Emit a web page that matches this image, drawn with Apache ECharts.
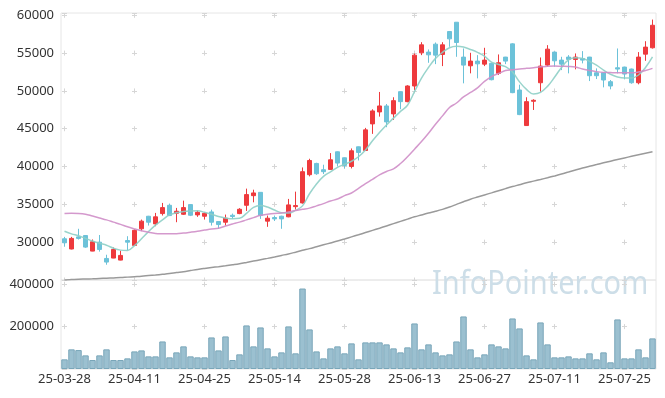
<!DOCTYPE html>
<html lang="ko">
<head>
    <meta charset="UTF-8">
    <title>주가 차트</title>
    <script src="https://cdn.jsdelivr.net/npm/echarts@6/dist/echarts.min.js"></script>
    <style>
        body { margin: 0; background: #fff; }
    </style>
</head>
<body>
<div id="main" style="width: 665px;height:398px;"></div>
<script>
    // 날짜 (거래일)
    var dates = [
        '25-03-28', '25-03-31', '25-04-01', '25-04-02', '25-04-03', '25-04-04', '25-04-07', '25-04-08', '25-04-09', '25-04-10',
        '25-04-11', '25-04-14', '25-04-15', '25-04-16', '25-04-17', '25-04-18', '25-04-21', '25-04-22', '25-04-23', '25-04-24',
        '25-04-25', '25-04-28', '25-04-29', '25-04-30', '25-05-02', '25-05-07', '25-05-08', '25-05-09', '25-05-12', '25-05-13',
        '25-05-14', '25-05-15', '25-05-16', '25-05-19', '25-05-20', '25-05-21', '25-05-22', '25-05-23', '25-05-26', '25-05-27',
        '25-05-28', '25-05-29', '25-05-30', '25-06-02', '25-06-04', '25-06-05', '25-06-09', '25-06-10', '25-06-11', '25-06-12',
        '25-06-13', '25-06-16', '25-06-17', '25-06-18', '25-06-19', '25-06-20', '25-06-23', '25-06-24', '25-06-25', '25-06-26',
        '25-06-27', '25-06-30', '25-07-01', '25-07-02', '25-07-03', '25-07-04', '25-07-07', '25-07-08', '25-07-09', '25-07-10',
        '25-07-11', '25-07-14', '25-07-15', '25-07-16', '25-07-17', '25-07-18', '25-07-21', '25-07-22', '25-07-23', '25-07-24',
        '25-07-25', '25-07-28', '25-07-29', '25-07-30', '25-07-31'
    ];

    // 시가, 종가, 저가, 고가
    var openPrices = [
        30450, 29100, 30700, 30880, 28820, 30000, 27850, 27900, 27630, 30220,
        29570, 31770, 33430, 32420, 33780, 34880, 33820, 33690, 34970, 33610,
        33430, 34000, 32730, 32640, 33560, 33780, 34880, 36150, 36590, 32780,
        33260, 33430, 33350, 34700, 35190, 38920, 40410, 39580, 39620, 41950,
        41160, 40010, 42610, 42120, 45640, 47220, 48010, 46960, 49900, 48580,
        50650, 55030, 55130, 56180, 54820, 57850, 59080, 54470, 53320, 53940,
        53540, 53640, 52320, 54470, 56220, 50120, 45420, 48630, 51080, 53410,
        55130, 54070, 54470, 54160, 54290, 54470, 52400, 52400, 51220, 53060,
        53150, 52890, 51080, 54860, 55700
    ];
    var closePrices = [
        29920, 30500, 30500, 29350, 30050, 29040, 27370, 29040, 28250, 30000,
        31570, 32780, 32640, 33350, 34570, 33520, 34090, 34570, 33560, 33950,
        33820, 32640, 32330, 33170, 33390, 34350, 36290, 36510, 33520, 33170,
        33080, 33080, 34930, 34840, 39320, 40800, 39050, 39320, 40890, 40460,
        40150, 42080, 41860, 44850, 47350, 48010, 45900, 48710, 48580, 50650,
        54730, 56090, 54770, 54730, 56090, 56880, 56400, 53410, 53940, 53580,
        54070, 51480, 53720, 53940, 49770, 46870, 48580, 48760, 53280, 55520,
        53980, 53540, 54160, 54470, 54070, 52010, 52010, 51440, 50650, 52890,
        52230, 51080, 54470, 55790, 58680
    ];
    var lowPrices = [
        29400, 29050, 30350, 29250, 28800, 28750, 27020, 27880, 27600, 28950,
        29500, 31460, 32200, 32110, 33520, 33450, 32640, 33600, 33450, 33350,
        32990, 32200, 31770, 32200, 33080, 33700, 34130, 35270, 33080, 32030,
        32800, 31770, 33300, 34310, 35100, 38700, 38900, 39010, 39550, 40010,
        39750, 39750, 40800, 42050, 44320, 46600, 45200, 46170, 47580, 48500,
        50120, 54730, 53720, 53540, 53280, 55830, 54510, 51000, 52320, 51660,
        53280, 51400, 52100, 53540, 49700, 46800, 45400, 47480, 49900, 53190,
        53190, 52750, 52320, 52850, 53640, 51300, 51570, 50470, 50210, 52320,
        51530, 50950, 50870, 53980, 55600
    ];
    var highPrices = [
        30700, 30700, 31770, 30900, 30360, 30950, 28340, 29300, 28870, 30790,
        31700, 32990, 33480, 33870, 35190, 35100, 34530, 35490, 35000, 34180,
        33950, 34300, 32800, 33650, 33780, 34500, 37080, 36940, 36600, 33520,
        33520, 33500, 35720, 36680, 39880, 41030, 40500, 40240, 41780, 42000,
        41200, 42390, 42650, 45110, 47570, 49860, 48270, 49160, 49950, 50750,
        54950, 56440, 55480, 56400, 56440, 57900, 59100, 55610, 55040, 54730,
        55700, 53700, 54820, 54500, 56300, 50820, 49160, 48890, 54420, 56050,
        55200, 54510, 54730, 54950, 55260, 54500, 52980, 52450, 51440, 55610,
        53200, 52950, 55130, 56570, 59430
    ];

    // 이동평균선
    var ma5 = [
        31450, 31100, 30850, 30500, 30150, 29850, 29600, 29200, 28950, 28900,
        29550, 30450, 31400, 32250, 32950, 33600, 33900, 34050, 34120, 34150,
        33950, 33700, 33400, 33200, 33100, 33150, 33800, 34600, 34850, 34650,
        34250, 33900, 33850, 34200, 34800, 36400, 37700, 38700, 39300, 39900,
        40300, 40700, 41300, 42200, 43400, 44500, 45500, 46400, 47300, 48100,
        49900, 51700, 53100, 54300, 55100, 55700, 55900, 55800, 55480, 55100,
        54600, 53800, 53500, 53200, 52500, 51200, 50200, 49600, 49800, 50600,
        51800, 53100, 54100, 54380, 54300, 53900, 53400, 52750, 52200, 51850,
        51700, 51700, 52100, 53100, 54500
    ];
    var ma20 = [
        33780, 33820, 33800, 33700, 33450, 33200, 32950, 32650, 32350, 32030,
        31750, 31500, 31300, 31150, 31110, 31100, 31110, 31200, 31320, 31450,
        31600, 31750, 31850, 32150, 32400, 32650, 32950, 33250, 33550, 33700,
        33800, 33850, 34000, 34200, 34350, 34500, 34800, 35100, 35450, 35700,
        36150, 36500, 37100, 37750, 38300, 38900, 39350, 39700, 40400, 41300,
        42300, 43300, 44400, 45600, 46700, 47800, 48400, 49200, 49800, 50400,
        51250, 51900, 52300, 52700, 52800, 52900, 52980, 53050, 53190, 53250,
        53280, 53250, 53230, 53150, 52900, 52700, 52550, 52450, 52420, 52400,
        52400, 52400, 52500, 52700, 52980
    ];
    var ma120 = [
        25000, 25050, 25100, 25130, 25160, 25200, 25240, 25280, 25320, 25380,
        25440, 25500, 25580, 25660, 25750, 25850, 25980, 26100, 26250, 26400,
        26530, 26650, 26760, 26880, 27010, 27150, 27320, 27500, 27680, 27860,
        28050, 28250, 28450, 28680, 28920, 29150, 29400, 29650, 29900, 30150,
        30420, 30700, 30980, 31270, 31560, 31850, 32150, 32450, 32750, 33050,
        33350, 33600, 33850, 34080, 34340, 34650, 35000, 35350, 35680, 35970,
        36250, 36520, 36800, 37080, 37350, 37600, 37850, 38070, 38290, 38520,
        38760, 39010, 39280, 39550, 39810, 40040, 40260, 40490, 40710, 40930,
        41140, 41350, 41550, 41750, 41950
    ];

    // 거래량
    var volumes = [
        45600, 92700, 89400, 64300, 42400, 64300, 92700, 42400, 42400, 50200,
        83100, 87800, 59600, 59600, 130000, 55000, 78500, 106800, 59600, 55000,
        55000, 149000, 87800, 153700, 42400, 69100, 205600, 106800, 196200, 97400,
        59600, 78500, 201000, 73900, 379800, 186800, 83100, 50200, 97400, 106800,
        73900, 120900, 45600, 125600, 125600, 125600, 116200, 97400, 78500, 102100,
        215000, 92700, 116200, 78500, 64300, 69100, 130000, 248000, 92700, 55000,
        69100, 116200, 106800, 97400, 238600, 191500, 64300, 45600, 219800, 116200,
        55000, 55000, 59600, 50200, 50200, 73900, 45600, 78500, 31600, 233900,
        50200, 50200, 92700, 55000, 144500
    ];

    var candles = [];
    for (var i = 0; i < dates.length; i++) {
        candles.push([openPrices[i], closePrices[i], lowPrices[i], highPrices[i]]);
    }

    var labelFont = { fontFamily: 'Noto Sans', fontSize: 13, color: '#333' };
    var plus = '#d6d6d6';
    function plain(v) { return String(v); }

    var myChart = echarts.init(document.getElementById('main'));
    var option = {
        animation: false,
        backgroundColor: '#fff',
        grid: [
            { left: 61, right: 9, top: 13, height: 267, show: true, borderColor: '#e6e6e6', borderWidth: 1 },
            { left: 61, right: 9, top: 280, height: 89, show: true, borderColor: '#e6e6e6', borderWidth: 1 }
        ],
        xAxis: [
            {
                type: 'category', gridIndex: 0, data: dates, boundaryGap: true,
                axisLine: { show: false }, axisTick: { show: false }, axisLabel: { show: false },
                splitLine: {
                    show: true, interval: 9, alignWithLabel: true,
                    lineStyle: { color: plus, width: 1, type: [5, 32.82], dashOffset: 0.23 }
                }
            },
            {
                type: 'category', gridIndex: 1, data: dates, boundaryGap: true,
                axisLine: { show: false }, axisTick: { show: false },
                axisLabel: Object.assign({ interval: 9, margin: 4 }, labelFont),
                splitLine: {
                    show: true, interval: 9, alignWithLabel: true,
                    lineStyle: { color: plus, width: 1, type: [5, 37.38], dashOffset: -1.74 }
                }
            }
        ],
        yAxis: [
            {
                type: 'value', gridIndex: 0, min: 25000, max: 60300, interval: 5000,
                axisLine: { show: false }, axisTick: { show: false },
                axisLabel: Object.assign({ margin: 7, showMinLabel: false, showMaxLabel: false, formatter: plain }, labelFont),
                splitLine: { show: true, lineStyle: { color: plus, width: 1, type: [5, 65], dashOffset: -1 } }
            },
            {
                type: 'value', gridIndex: 1, min: 0, max: 420000, interval: 200000,
                axisLine: { show: false }, axisTick: { show: false },
                axisLabel: Object.assign({ margin: 7, showMinLabel: false, showMaxLabel: false, formatter: plain }, labelFont),
                splitLine: { show: true, lineStyle: { color: plus, width: 1, type: [5, 65], dashOffset: -1 } }
            }
        ],
        graphic: [
            {
                type: 'text', x: 432, y: 268, scaleX: 0.89, z: 0, silent: true,
                style: {
                    text: 'InfoPointer.com', fontFamily: 'Noto Sans', fontSize: 32.6,
                    textBaseline: 'alphabetic', fill: '#cddee8'
                }
            }
        ],
        series: [
            {
                name: '주가', type: 'candlestick', xAxisIndex: 0, yAxisIndex: 0,
                data: candles, barWidth: 5, z: 3,
                itemStyle: {
                    color: '#ee3a3d', borderColor: '#ee3a3d',
                    color0: '#6cc2d9', borderColor0: '#6cc2d9', borderWidth: 1
                }
            },
            {
                name: 'MA5', type: 'line', xAxisIndex: 0, yAxisIndex: 0, data: ma5,
                smooth: 0.4, showSymbol: false, z: 4,
                lineStyle: { color: '#8ecfc6', width: 1.5, opacity: 0.9 }
            },
            {
                name: 'MA20', type: 'line', xAxisIndex: 0, yAxisIndex: 0, data: ma20,
                smooth: 0.4, showSymbol: false, z: 4,
                lineStyle: { color: '#cf8ec8', width: 1.5, opacity: 0.9 }
            },
            {
                name: 'MA120', type: 'line', xAxisIndex: 0, yAxisIndex: 0, data: ma120,
                smooth: 0.4, showSymbol: false, z: 4,
                lineStyle: { color: '#9a9a9a', width: 1.5 }
            },
            {
                name: '거래량', type: 'bar', xAxisIndex: 1, yAxisIndex: 1, data: volumes,
                barCategoryGap: '8%',
                itemStyle: { color: '#9bc0d0', borderColor: '#79a6b9', borderWidth: 1 }
            }
        ]
    };
    myChart.setOption(option);
</script>
</body>
</html>
